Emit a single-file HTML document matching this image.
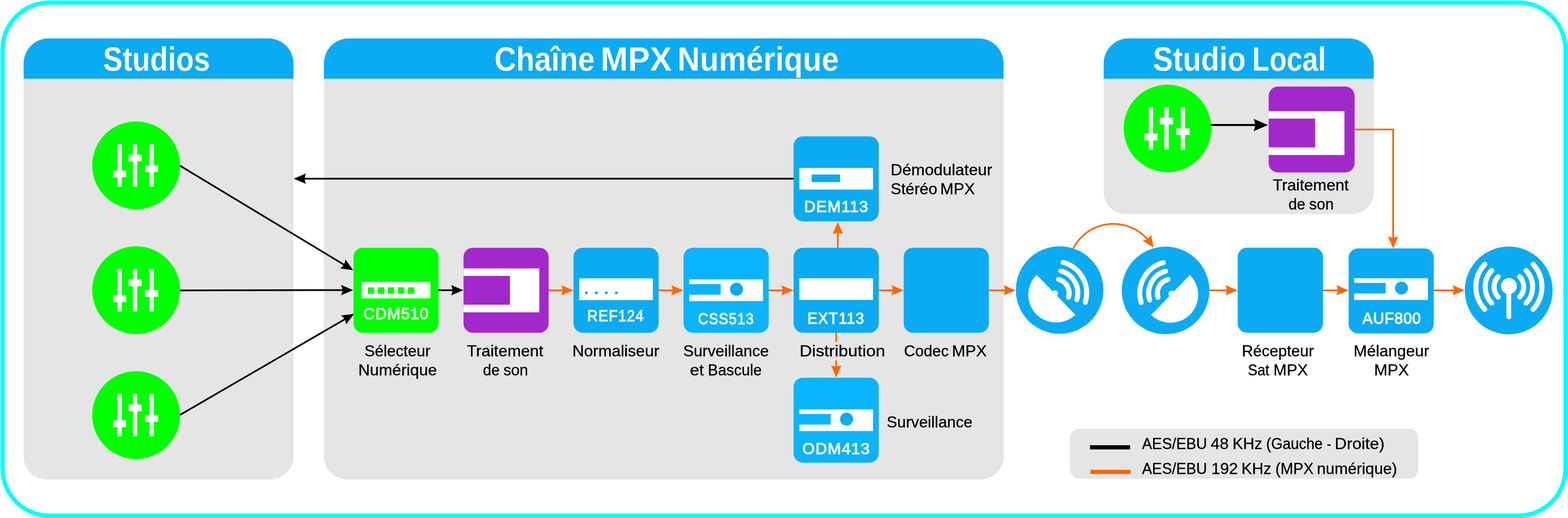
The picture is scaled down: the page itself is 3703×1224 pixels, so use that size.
<!DOCTYPE html>
<html lang="fr">
<head>
<meta charset="utf-8">
<title>Chaîne MPX Numérique</title>
<style>
html,body{margin:0;padding:0;background:#fff;}
body{width:3703px;height:1224px;overflow:hidden;}
svg{display:block;will-change:transform;}
text{font-family:"Liberation Sans", sans-serif;white-space:pre;}
</style>
</head>
<body>
<svg width="3703" height="1224" viewBox="0 0 3703 1224">
<rect x="6" y="6" width="3691" height="1212.4" rx="111" ry="111" fill="#fff" stroke="#00FFFF" stroke-width="10"/>
<path d="M55.8 185.1H693V1078A55 55 0 0 1 638 1133H110.8A55 55 0 0 1 55.8 1078Z" fill="#E5E5E5"/>
<path d="M55.8 186.1V149.8A59 59 0 0 1 114.8 90.8H634A59 59 0 0 1 693 149.8V186.1Z" fill="#0AABF2"/>
<path d="M765 185.1H2370V1078A55 55 0 0 1 2315 1133H820A55 55 0 0 1 765 1078Z" fill="#E5E5E5"/>
<path d="M765 186.1V149.8A59 59 0 0 1 824 90.8H2311A59 59 0 0 1 2370 149.8V186.1Z" fill="#0AABF2"/>
<path d="M2606.5 185.1H3244.3V453.8A52 52 0 0 1 3192.3 505.8H2658.5A52 52 0 0 1 2606.5 453.8Z" fill="#E5E5E5"/>
<path d="M2606.5 186.1V149.8A59 59 0 0 1 2665.5 90.8H3185.3A59 59 0 0 1 3244.3 149.8V186.1Z" fill="#0AABF2"/>
<rect x="2526.8" y="1013.4" width="822.8" height="117.9" rx="22.5" ry="22.5" fill="#E5E5E5"/>
<rect x="2574.1" y="1052" width="94.7" height="10" fill="#000"/>
<rect x="2575.1" y="1110" width="94.7" height="10" fill="#FF6600"/>
<text y="166.5" font-size="78.8" font-weight="bold" fill="#fff" stroke="#0AABF2" stroke-width="0.3"><tspan x="243.57" textLength="252.63" lengthAdjust="spacingAndGlyphs">Studios</tspan></text>
<text y="166.5" font-size="78.8" font-weight="bold" fill="#fff" stroke="#0AABF2" stroke-width="0.3"><tspan x="1167.63" textLength="236.81" lengthAdjust="spacingAndGlyphs">Chaîne</tspan> <tspan x="1418.33" textLength="168.3" lengthAdjust="spacingAndGlyphs">MPX</tspan> <tspan x="1599.99" textLength="381.01" lengthAdjust="spacingAndGlyphs">Numérique</tspan></text>
<text y="166.5" font-size="78.8" font-weight="bold" fill="#fff" stroke="#0AABF2" stroke-width="0.3"><tspan x="2723" textLength="218.95" lengthAdjust="spacingAndGlyphs">Studio</tspan> <tspan x="2957.18" textLength="174.09" lengthAdjust="spacingAndGlyphs">Local</tspan></text>
<line x1="425" y1="391.5" x2="813.2" y2="625.94" stroke="#000" stroke-width="4"/>
<path d="M834 638.5L803.3 634.21Q809.23 629.96 812.34 625.42Q814.91 620.56 815.91 613.32Z" fill="#000"/>
<line x1="425.4" y1="686.3" x2="809.7" y2="685.45" stroke="#000" stroke-width="4"/>
<path d="M834 685.4L805.53 697.66Q808.39 690.95 808.7 685.46Q808.37 679.97 805.47 673.26Z" fill="#000"/>
<line x1="425.4" y1="980.2" x2="814.99" y2="754" stroke="#000" stroke-width="4"/>
<path d="M836 741.8L817.48 766.66Q816.6 759.41 814.12 754.5Q811.09 749.92 805.23 745.56Z" fill="#000"/>
<line x1="1876" y1="422.3" x2="718.2" y2="422.3" stroke="#000" stroke-width="4"/>
<path d="M693.9 422.3L722.4 410.1Q719.52 416.81 719.2 422.3Q719.52 427.79 722.4 434.5Z" fill="#000"/>
<line x1="1034" y1="685.8" x2="1069.7" y2="685.8" stroke="#000" stroke-width="4"/>
<path d="M1094 685.8L1065.5 698Q1068.38 691.29 1068.7 685.8Q1068.38 680.31 1065.5 673.6Z" fill="#000"/>
<line x1="1294" y1="685.9" x2="1329.5" y2="685.9" stroke="#FF6600" stroke-width="4"/>
<path d="M1353.8 685.9L1325.3 698.1Q1328.18 691.39 1328.5 685.9Q1328.18 680.41 1325.3 673.7Z" fill="#FF6600"/>
<line x1="1554" y1="685.9" x2="1589.5" y2="685.9" stroke="#FF6600" stroke-width="4"/>
<path d="M1613.8 685.9L1585.3 698.1Q1588.18 691.39 1588.5 685.9Q1588.18 680.41 1585.3 673.7Z" fill="#FF6600"/>
<line x1="1814" y1="685.9" x2="1849.3" y2="685.9" stroke="#FF6600" stroke-width="4"/>
<path d="M1873.6 685.9L1845.1 698.1Q1847.98 691.39 1848.3 685.9Q1847.98 680.41 1845.1 673.7Z" fill="#FF6600"/>
<line x1="2074" y1="685.9" x2="2109.3" y2="685.9" stroke="#FF6600" stroke-width="4"/>
<path d="M2133.6 685.9L2105.1 698.1Q2107.98 691.39 2108.3 685.9Q2107.98 680.41 2105.1 673.7Z" fill="#FF6600"/>
<line x1="2334" y1="685.9" x2="2374.3" y2="685.9" stroke="#FF6600" stroke-width="4"/>
<path d="M2398.6 685.9L2370.1 698.1Q2372.98 691.39 2373.3 685.9Q2372.98 680.41 2370.1 673.7Z" fill="#FF6600"/>
<line x1="2855" y1="685.9" x2="2898.3" y2="685.9" stroke="#FF6600" stroke-width="4"/>
<path d="M2922.6 685.9L2894.1 698.1Q2896.98 691.39 2897.3 685.9Q2896.98 680.41 2894.1 673.7Z" fill="#FF6600"/>
<line x1="3123" y1="685.9" x2="3160.3" y2="685.9" stroke="#FF6600" stroke-width="4"/>
<path d="M3184.6 685.9L3156.1 698.1Q3158.98 691.39 3159.3 685.9Q3158.98 680.41 3156.1 673.7Z" fill="#FF6600"/>
<line x1="3384" y1="685.9" x2="3434.5" y2="685.9" stroke="#FF6600" stroke-width="4"/>
<path d="M3458.8 685.9L3430.3 698.1Q3433.18 691.39 3433.5 685.9Q3433.18 680.41 3430.3 673.7Z" fill="#FF6600"/>
<line x1="1978.5" y1="590" x2="1978.5" y2="548.8" stroke="#FF6600" stroke-width="4"/>
<path d="M1978.5 524.5L1990.7 553Q1983.99 550.12 1978.5 549.8Q1973.01 550.12 1966.3 553Z" fill="#FF6600"/>
<line x1="1974.7" y1="780" x2="1974.7" y2="867.5" stroke="#FF6600" stroke-width="4"/>
<path d="M1974.7 891.8L1962.5 863.3Q1969.21 866.18 1974.7 866.5Q1980.19 866.18 1986.9 863.3Z" fill="#FF6600"/>
<path d="M3197 306H3292.8M3290 306V560" fill="none" stroke="#FF6600" stroke-width="4"/>
<line x1="3290" y1="500" x2="3290" y2="562.7" stroke="#FF6600" stroke-width="4"/>
<path d="M3290 587L3277.8 558.5Q3284.51 561.38 3290 561.7Q3295.49 561.38 3302.2 558.5Z" fill="#FF6600"/>
<path d="M2531.54 592.87L2534.54 586.87A107.0 107.0 0 0 1 2710.24 565.67" fill="none" stroke="#FF6600" stroke-width="4"/>
<path d="M2724.5 585.3L2698.3 568.72Q2705.46 567.3 2710.17 564.45Q2714.51 561.08 2718.41 554.9Z" fill="#FF6600"/>
<circle cx="321.5" cy="390.7" r="103.8" fill="#00FF00"/>
<rect x="277.35" y="340.7" width="10.2" height="100" fill="#fff"/>
<rect x="313.9" y="340.7" width="10.2" height="100" fill="#fff"/>
<rect x="352.85" y="340.7" width="10.2" height="100" fill="#fff"/>
<rect x="266.85" y="403.1" width="31.2" height="15.9" fill="#fff"/>
<rect x="303.4" y="365.5" width="31.2" height="15.9" fill="#fff"/>
<rect x="342.35" y="390.5" width="31.2" height="15.9" fill="#fff"/>
<circle cx="321.5" cy="685.6" r="103.8" fill="#00FF00"/>
<rect x="277.35" y="635.6" width="10.2" height="100" fill="#fff"/>
<rect x="313.9" y="635.6" width="10.2" height="100" fill="#fff"/>
<rect x="352.85" y="635.6" width="10.2" height="100" fill="#fff"/>
<rect x="266.85" y="698" width="31.2" height="15.9" fill="#fff"/>
<rect x="303.4" y="660.4" width="31.2" height="15.9" fill="#fff"/>
<rect x="342.35" y="685.4" width="31.2" height="15.9" fill="#fff"/>
<circle cx="321.5" cy="980.9" r="103.8" fill="#00FF00"/>
<rect x="277.35" y="930.9" width="10.2" height="100" fill="#fff"/>
<rect x="313.9" y="930.9" width="10.2" height="100" fill="#fff"/>
<rect x="352.85" y="930.9" width="10.2" height="100" fill="#fff"/>
<rect x="266.85" y="993.3" width="31.2" height="15.9" fill="#fff"/>
<rect x="303.4" y="955.7" width="31.2" height="15.9" fill="#fff"/>
<rect x="342.35" y="980.7" width="31.2" height="15.9" fill="#fff"/>
<circle cx="2757.2" cy="303.4" r="103.5" fill="#00FF00"/>
<rect x="2713.05" y="253.4" width="10.2" height="100" fill="#fff"/>
<rect x="2749.6" y="253.4" width="10.2" height="100" fill="#fff"/>
<rect x="2788.55" y="253.4" width="10.2" height="100" fill="#fff"/>
<rect x="2702.55" y="315.8" width="31.2" height="15.9" fill="#fff"/>
<rect x="2739.1" y="278.2" width="31.2" height="15.9" fill="#fff"/>
<rect x="2778.05" y="303.2" width="31.2" height="15.9" fill="#fff"/>
<rect x="834.8" y="585.4" width="200.8" height="200.9" rx="22" ry="22" fill="#00FF00"/>
<rect x="853.8" y="666.2" width="162.7" height="38.9" fill="#fff"/>
<rect x="868.6" y="678.9" width="15.3" height="15.4" fill="#00FF00"/>
<rect x="892.25" y="678.9" width="15.3" height="15.4" fill="#00FF00"/>
<rect x="915.9" y="678.9" width="15.3" height="15.4" fill="#00FF00"/>
<rect x="939.55" y="678.9" width="15.3" height="15.4" fill="#00FF00"/>
<rect x="963.2" y="678.9" width="15.3" height="15.4" fill="#00FF00"/>
<text y="754.5" font-size="37" font-weight="normal" fill="#fff" stroke="#fff" stroke-width="1.5" stroke-linejoin="round" transform="scale(1.001 1)"><tspan x="857.1" textLength="153.7" lengthAdjust="spacing">CDM510</tspan></text>
<rect x="1094.6" y="585.4" width="201" height="200.9" rx="22" ry="22" fill="#A328CC"/>
<path d="M1094.6 634.3H1273.6V737.9H1094.6V719.9H1204.3V651.9H1094.6Z" fill="#fff"/>
<rect x="1354.3" y="585.4" width="201.1" height="200.9" rx="22" ry="22" fill="#0AABF2"/>
<rect x="1367.8" y="657.8" width="174.1" height="51.4" fill="#fff"/>
<circle cx="1384.9" cy="691.9" r="3.3" fill="#0AABF2"/>
<circle cx="1408.4" cy="691.9" r="3.3" fill="#0AABF2"/>
<circle cx="1432" cy="691.9" r="3.3" fill="#0AABF2"/>
<circle cx="1455.6" cy="691.9" r="3.3" fill="#0AABF2"/>
<text y="759.1" font-size="37" font-weight="normal" fill="#fff" stroke="#fff" stroke-width="1.5" stroke-linejoin="round" transform="scale(0.917 1)"><tspan x="1512.62" textLength="144.84" lengthAdjust="spacing">REF124</tspan></text>
<rect x="1614.3" y="585.4" width="201.1" height="200.9" rx="22" ry="22" fill="#0AB4FC"/>
<path d="M1627.8 660.3H1801.9V711.4H1627.8V696.2H1701.9V671.3H1627.8Z" fill="#fff"/>
<circle cx="1739.4" cy="683.4" r="15.3" fill="#0AABF2"/>
<text y="766.3" font-size="37" font-weight="normal" fill="#fff" stroke="#fff" stroke-width="1.5" stroke-linejoin="round" transform="scale(0.898 1)"><tspan x="1835.66" textLength="146.34" lengthAdjust="spacing">CSS513</tspan></text>
<rect x="1874.1" y="585.4" width="201.2" height="200.9" rx="22" ry="22" fill="#0AABF2"/>
<rect x="1887.6" y="657.6" width="174.1" height="51.1" fill="#fff"/>
<text y="765.5" font-size="37" font-weight="normal" fill="#fff" stroke="#fff" stroke-width="1.5" stroke-linejoin="round" transform="scale(0.955 1)"><tspan x="1996.47" textLength="140.17" lengthAdjust="spacing">EXT113</tspan></text>
<rect x="2134.1" y="585.4" width="201.1" height="200.9" rx="22" ry="22" fill="#0AABF2"/>
<rect x="1874.1" y="322.2" width="201.2" height="200.8" rx="22" ry="22" fill="#0AABF2"/>
<rect x="1887.6" y="396.8" width="174.1" height="51.1" fill="#fff"/>
<rect x="1916.8" y="412.4" width="67.2" height="17.9" fill="#0AABF2"/>
<text y="501.3" font-size="37" font-weight="normal" fill="#fff" stroke="#fff" stroke-width="1.5" stroke-linejoin="round" transform="scale(1.006 1)"><tspan x="1887.62" textLength="150.04" lengthAdjust="spacing">DEM113</tspan></text>
<rect x="1874.1" y="892.4" width="201.2" height="200.8" rx="22" ry="22" fill="#0AB4FC"/>
<path d="M1887.6 967.3H2061.7V1018.4H1887.6V1003.2H1961.7V978.3H1887.6Z" fill="#fff"/>
<circle cx="1999.2" cy="990.4" r="15.3" fill="#0AABF2"/>
<text y="1073.5" font-size="37" font-weight="normal" fill="#fff" stroke="#fff" stroke-width="1.5" stroke-linejoin="round" transform="scale(1.023 1)"><tspan x="1852.18" textLength="155.56" lengthAdjust="spacing">ODM413</tspan></text>
<circle cx="2502.4" cy="685.3" r="103.4" fill="#0AABF2"/>
<g transform="translate(2502.4 685.3)">
<path d="M-54.21 -36.13A65.8 65.8 0 0 0 37.21 58.53Z" fill="#fff"/>
<circle cx="-11.1" cy="8" r="7.3" fill="#fff"/>
<path d="M-2.43 -25.26A33.5 33.5 0 0 1 20.94 16.89" fill="none" stroke="#fff" stroke-width="12" stroke-linecap="round"/>
<path d="M2.88 -45.06A54 54 0 0 1 40.54 22.89" fill="none" stroke="#fff" stroke-width="12" stroke-linecap="round"/>
<path d="M8.31 -65.34A75 75 0 0 1 60.62 29.03" fill="none" stroke="#fff" stroke-width="12" stroke-linecap="round"/>
</g>
<circle cx="2752.6" cy="686.3" r="103.5" fill="#0AABF2"/>
<g transform="translate(2755.6 685.8) scale(-1 1)">
<path d="M-54.21 -36.13A65.8 65.8 0 0 0 37.21 58.53Z" fill="#fff"/>
<circle cx="-11.1" cy="8" r="7.3" fill="#fff"/>
<path d="M-2.43 -25.26A33.5 33.5 0 0 1 20.94 16.89" fill="none" stroke="#fff" stroke-width="12" stroke-linecap="round"/>
<path d="M2.88 -45.06A54 54 0 0 1 40.54 22.89" fill="none" stroke="#fff" stroke-width="12" stroke-linecap="round"/>
<path d="M8.31 -65.34A75 75 0 0 1 60.62 29.03" fill="none" stroke="#fff" stroke-width="12" stroke-linecap="round"/>
</g>
<rect x="2922.9" y="585.2" width="201.4" height="201" rx="22" ry="22" fill="#0AABF2"/>
<rect x="3184.9" y="587" width="201" height="200.8" rx="22" ry="22" fill="#0AABF2"/>
<path d="M3198.1 657.6H3372.2V708.7H3198.1V693.5H3272.2V668.6H3198.1Z" fill="#fff"/>
<circle cx="3309.7" cy="680.7" r="15.3" fill="#0AABF2"/>
<text y="765.4" font-size="37" font-weight="normal" fill="#fff" stroke="#fff" stroke-width="1.5" stroke-linejoin="round" transform="scale(0.977 1)"><tspan x="3293.24" textLength="141.24" lengthAdjust="spacing">AUF800</tspan></text>
<circle cx="3563" cy="686.3" r="103.7" fill="#0AABF2"/>
<circle cx="3563.4" cy="676" r="18.9" fill="#fff"/>
<line x1="3563.2" y1="676.8" x2="3563.2" y2="748.9" stroke="#fff" stroke-width="11.2" stroke-linecap="round"/>
<path d="M3538.01 653.71A35 35 0 0 0 3538.01 701.89" fill="none" stroke="#fff" stroke-width="12" stroke-linecap="round"/>
<path d="M3588.79 653.71A35 35 0 0 1 3588.79 701.89" fill="none" stroke="#fff" stroke-width="12" stroke-linecap="round"/>
<path d="M3522.78 639.25A56 56 0 0 0 3522.78 716.35" fill="none" stroke="#fff" stroke-width="12" stroke-linecap="round"/>
<path d="M3604.02 639.25A56 56 0 0 1 3604.02 716.35" fill="none" stroke="#fff" stroke-width="12" stroke-linecap="round"/>
<path d="M3506.35 624.6A78 78 0 0 0 3506.35 731" fill="none" stroke="#fff" stroke-width="12" stroke-linecap="round"/>
<path d="M3620.45 624.6A78 78 0 0 1 3620.45 731" fill="none" stroke="#fff" stroke-width="12" stroke-linecap="round"/>
<rect x="2996.1" y="204.6" width="202.9" height="202.8" rx="22" ry="22" fill="#A328CC"/>
<path d="M2996.1 262.7H3175.1V366.3H2996.1V348.3H3105.8V280.3H2996.1Z" fill="#fff"/>
<line x1="2859" y1="295.4" x2="2965.44" y2="295.4" stroke="#000" stroke-width="4.9"/>
<path d="M2994.6 295.4L2960.4 310.04Q2963.86 301.99 2964.24 295.4Q2963.86 288.81 2960.4 280.76Z" fill="#000"/>
<text y="841.5" font-size="36" font-weight="normal" fill="#000" stroke="#000" stroke-width="0.4"><tspan x="860.74" textLength="155.72" lengthAdjust="spacingAndGlyphs">Sélecteur</tspan></text>
<text y="886.8" font-size="36" font-weight="normal" fill="#000" stroke="#000" stroke-width="0.4"><tspan x="846.08" textLength="185.87" lengthAdjust="spacingAndGlyphs">Numérique</tspan></text>
<text y="841.5" font-size="36" font-weight="normal" fill="#000" stroke="#000" stroke-width="0.4"><tspan x="1102.42" textLength="180.7" lengthAdjust="spacingAndGlyphs">Traitement</tspan></text>
<text y="886.8" font-size="36" font-weight="normal" fill="#000" stroke="#000" stroke-width="0.4"><tspan x="1140.54" textLength="39.65" lengthAdjust="spacingAndGlyphs">de</tspan> <tspan x="1188.91" textLength="58.28" lengthAdjust="spacingAndGlyphs">son</tspan></text>
<text y="841.5" font-size="36" font-weight="normal" fill="#000" stroke="#000" stroke-width="0.4"><tspan x="1351.72" textLength="205.09" lengthAdjust="spacingAndGlyphs">Normaliseur</tspan></text>
<text y="841.5" font-size="36" font-weight="normal" fill="#000" stroke="#000" stroke-width="0.4"><tspan x="1613.45" textLength="202.23" lengthAdjust="spacingAndGlyphs">Surveillance</tspan></text>
<text y="886.8" font-size="36" font-weight="normal" fill="#000" stroke="#000" stroke-width="0.4"><tspan x="1629.3" textLength="33.05" lengthAdjust="spacingAndGlyphs">et</tspan> <tspan x="1671.85" textLength="127.11" lengthAdjust="spacingAndGlyphs">Bascule</tspan></text>
<rect x="1960" y="807.5" width="30" height="43.7" fill="#E5E5E5"/>
<text y="841.5" font-size="36" font-weight="normal" fill="#000" stroke="#000" stroke-width="0.4"><tspan x="1888.19" textLength="202.38" lengthAdjust="spacingAndGlyphs">Distribution</tspan></text>
<text y="841.5" font-size="36" font-weight="normal" fill="#000" stroke="#000" stroke-width="0.4"><tspan x="2134.88" textLength="105.5" lengthAdjust="spacingAndGlyphs">Codec</tspan> <tspan x="2248.1" textLength="82.19" lengthAdjust="spacingAndGlyphs">MPX</tspan></text>
<text y="413.8" font-size="36" font-weight="normal" fill="#000" stroke="#000" stroke-width="0.4"><tspan x="2103.23" textLength="239.96" lengthAdjust="spacingAndGlyphs">Démodulateur</tspan></text>
<text y="459.3" font-size="36" font-weight="normal" fill="#000" stroke="#000" stroke-width="0.4"><tspan x="2103.15" textLength="110.43" lengthAdjust="spacingAndGlyphs">Stéréo</tspan> <tspan x="2220.52" textLength="81.93" lengthAdjust="spacingAndGlyphs">MPX</tspan></text>
<text y="1010.1" font-size="36" font-weight="normal" fill="#000" stroke="#000" stroke-width="0.4"><tspan x="2093.99" textLength="202.52" lengthAdjust="spacingAndGlyphs">Surveillance</tspan></text>
<text y="841.5" font-size="36" font-weight="normal" fill="#000" stroke="#000" stroke-width="0.4"><tspan x="2932.68" textLength="170.11" lengthAdjust="spacingAndGlyphs">Récepteur</tspan></text>
<text y="886.8" font-size="36" font-weight="normal" fill="#000" stroke="#000" stroke-width="0.4"><tspan x="2947.03" textLength="50.76" lengthAdjust="spacingAndGlyphs">Sat</tspan> <tspan x="3007.32" textLength="81.48" lengthAdjust="spacingAndGlyphs">MPX</tspan></text>
<text y="841.5" font-size="36" font-weight="normal" fill="#000" stroke="#000" stroke-width="0.4"><tspan x="3196.87" textLength="178.25" lengthAdjust="spacingAndGlyphs">Mélangeur</tspan></text>
<text y="886.8" font-size="36" font-weight="normal" fill="#000" stroke="#000" stroke-width="0.4"><tspan x="3245.1" textLength="82.19" lengthAdjust="spacingAndGlyphs">MPX</tspan></text>
<text y="449.6" font-size="36" font-weight="normal" fill="#000" stroke="#000" stroke-width="0.4"><tspan x="3005.73" textLength="179.59" lengthAdjust="spacingAndGlyphs">Traitement</tspan></text>
<text y="495" font-size="36" font-weight="normal" fill="#000" stroke="#000" stroke-width="0.4"><tspan x="3042.97" textLength="39.69" lengthAdjust="spacingAndGlyphs">de</tspan> <tspan x="3091.78" textLength="57.89" lengthAdjust="spacingAndGlyphs">son</tspan></text>
<text y="1061" font-size="37.5" font-weight="normal" fill="#000" stroke="#000" stroke-width="0.4"><tspan x="2696.98" textLength="153.51" lengthAdjust="spacingAndGlyphs">AES/EBU</tspan> <tspan x="2859.27" textLength="42.41" lengthAdjust="spacingAndGlyphs">48</tspan> <tspan x="2910.64" textLength="70.38" lengthAdjust="spacingAndGlyphs">KHz</tspan> <tspan x="2990.33" textLength="133.24" lengthAdjust="spacingAndGlyphs">(Gauche</tspan> <tspan x="3133.14" textLength="10.86" lengthAdjust="spacingAndGlyphs">-</tspan> <tspan x="3152.1" textLength="117.78" lengthAdjust="spacingAndGlyphs">Droite)</tspan></text>
<text y="1119.8" font-size="37.5" font-weight="normal" fill="#000" stroke="#000" stroke-width="0.4"><tspan x="2696.98" textLength="153.51" lengthAdjust="spacingAndGlyphs">AES/EBU</tspan> <tspan x="2860.64" textLength="62.89" lengthAdjust="spacingAndGlyphs">192</tspan> <tspan x="2931.72" textLength="70.75" lengthAdjust="spacingAndGlyphs">KHz</tspan> <tspan x="3011.9" textLength="90.23" lengthAdjust="spacingAndGlyphs">(MPX</tspan> <tspan x="3110.01" textLength="189.58" lengthAdjust="spacingAndGlyphs">numérique)</tspan></text>
</svg>
</body>
</html>
